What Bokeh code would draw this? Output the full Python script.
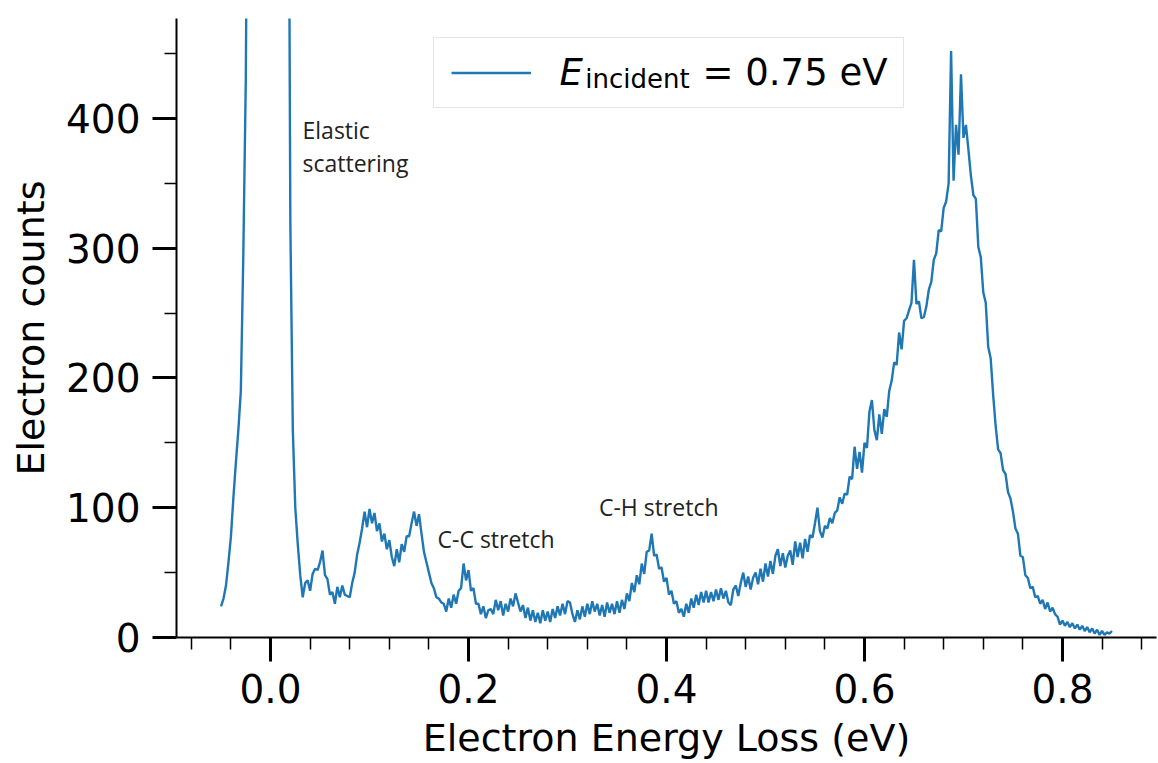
import numpy as np
from bokeh.plotting import figure
from bokeh.models import Range1d, FixedTicker, Legend, LegendItem, Label, PrintfTickFormatter
from bokeh.embed import file_html
from bokeh.resources import INLINE

# Energy grid of the spectrum (eV): start and step
energy_start = -0.05
energy_step = 0.0025

# Electron counts, region by region
counts_elastic = [24, 30, 40, 58, 78, 108, 135, 160, 190, 295,
                  430, 720, 1200, 1900, 2700, 3400, 3900, 4200, 4300, 4200,
                  4000, 3600, 3100, 2500, 1900, 1400, 1000, 780, 320, 160]
counts_low_modes = [100, 72, 48, 31, 42, 44, 36, 49, 53, 52,
                    58, 67, 48, 45, 33, 35, 26, 39, 31, 40,
                    33, 32, 31, 42, 50, 64, 73, 84, 97, 85,
                    99, 88, 96, 82, 88, 74, 80, 68, 75, 62,
                    55, 68, 58, 72, 66, 78, 78, 88, 97, 86,
                    95, 80, 66, 58, 50, 42, 38, 31, 30, 27,
                    26, 20, 30, 23, 33, 26, 36, 38, 57, 44,
                    52, 36, 38, 26, 26, 18, 24, 15, 21, 22]
counts_plateau = [18, 29, 21, 28, 17, 26, 20, 30, 24, 34,
                  27, 20, 25, 15, 23, 13, 21, 12, 19, 11,
                  21, 13, 20, 12, 22, 15, 24, 17, 26, 18,
                  28, 27, 18, 12, 21, 14, 24, 16, 26, 18,
                  28, 20, 26, 17, 25, 16, 27, 19, 26, 18]
counts_ch = [28, 19, 29, 22, 34, 28, 42, 35, 48, 41,
             57, 49, 66, 67, 80, 63, 64, 53, 54, 43,
             46, 33, 36, 26, 28, 19, 22, 16, 26, 19,
             30, 23, 33, 25, 35, 27, 36, 27, 35, 28,
             37, 29, 38, 30, 36, 27, 25, 37, 40, 32]
counts_rise = [42, 50, 39, 47, 37, 46, 50, 41, 53, 43,
               57, 47, 59, 49, 63, 68, 55, 65, 54, 63,
               67, 56, 74, 62, 73, 61, 76, 66, 79, 77,
               88, 100, 82, 77, 86, 84, 92, 88, 96, 98,
               108, 103, 111, 110, 124, 122, 147, 130, 143, 127,
               150, 146, 174, 183, 160, 152, 172, 157, 176, 170,
               190, 198, 212, 210, 235, 222, 244, 246, 252, 258]
counts_main = [291, 257, 259, 246, 247, 255, 268, 274, 291, 296,
               314, 313, 331, 336, 350, 452, 352, 395, 372, 434,
               385, 395, 376, 356, 341, 338, 301, 293, 266, 258,
               224, 215, 187, 163, 145, 142, 129, 126, 112, 107]
counts_tail = [97, 84, 80, 63, 62, 48, 46, 38, 39, 31,
               32, 26, 29, 22, 27, 20, 23, 18, 16, 10,
               13, 9, 12, 8, 11, 7, 10, 6, 9, 5,
               8, 4, 7, 3, 6, 2, 5, 2, 4, 3,
               5]

# Tick positions
x_major = [0.0, 0.2, 0.4, 0.6, 0.8]
x_minor = [-0.08, -0.04, 0.04, 0.08, 0.12, 0.16, 0.24, 0.28, 0.32, 0.36,
           0.44, 0.48, 0.52, 0.56, 0.64, 0.68, 0.72, 0.76, 0.84, 0.88]
y_major = [0, 100, 200, 300, 400]
y_minor = [50, 150, 250, 350, 450]

counts = np.array(counts_elastic + counts_low_modes + counts_plateau + counts_ch
                  + counts_rise + counts_main + counts_tail, dtype=float)
energy = np.round(energy_start + energy_step * np.arange(len(counts)), 4)

p = figure(width=1158, height=763,
           x_range=Range1d(-0.095, 0.895), y_range=Range1d(0, 477),
           output_backend="svg", toolbar_location=None,
           min_border_left=176, min_border_right=2,
           min_border_top=18, min_border_bottom=126)
p.outline_line_color = None
p.xgrid.visible = False
p.ygrid.visible = False
p.background_fill_color = "white"
p.border_fill_color = "white"

r = p.line(energy, counts, line_color="#1f77b4", line_width=2.4)

for ax in (p.xaxis[0], p.yaxis[0]):
    ax.axis_line_width = 2
    ax.axis_line_color = "black"
    ax.major_tick_in = 0
    ax.minor_tick_in = 0
    ax.major_tick_out = 24
    ax.minor_tick_out = 12
    ax.major_tick_line_width = 3
    ax.minor_tick_line_width = 1.5
    ax.major_tick_line_color = "black"
    ax.minor_tick_line_color = "black"
    ax.major_label_text_font = "DejaVu Sans"
    ax.major_label_text_font_size = "39px"
    ax.major_label_text_color = "black"
    ax.axis_label_text_font = "DejaVu Sans"
    ax.axis_label_text_font_size = "38px"
    ax.axis_label_text_font_style = "normal"
    ax.axis_label_text_color = "black"

p.xaxis.ticker = FixedTicker(ticks=x_major, minor_ticks=x_minor)
p.xaxis.formatter = PrintfTickFormatter(format="%.1f")
p.yaxis.ticker = FixedTicker(ticks=y_major, minor_ticks=y_minor)
p.xaxis.axis_label = "Electron Energy Loss (eV)"
p.yaxis.axis_label = "Electron counts"
p.xaxis.major_label_standoff = 12
p.yaxis.major_label_standoff = 12
p.xaxis.axis_label_standoff = 10
p.yaxis.axis_label_standoff = 10

legend = Legend(items=[LegendItem(label=" ", renderers=[r])],
                location=(257, 529), margin=0, padding=17, spacing=0,
                glyph_width=80, glyph_height=35, label_height=35,
                label_width=325, label_standoff=30,
                border_line_color="#cccccc", border_line_width=1.5,
                background_fill_color="white", background_fill_alpha=0.0)
p.add_layout(legend)

leg_text = dict(text_font="DejaVu Sans", text_baseline="alphabetic",
                text_color="black", level="overlay")
p.add_layout(Label(x=0.292, y=435.3, text="E", text_font_style="italic",
                   text_font_size="37px", **leg_text))
p.add_layout(Label(x=0.318, y=430.7, text="incident",
                   text_font_size="26px", **leg_text))
p.add_layout(Label(x=0.4364, y=435.3, text="= 0.75 eV",
                   text_font_size="37px", **leg_text))

ann_style = dict(text_font="Open Sans", text_font_size="23px",
                 text_baseline="alphabetic", text_color="#222222")
p.add_layout(Label(x=0.0323, y=391.0, text="Elastic", **ann_style))
p.add_layout(Label(x=0.0323, y=365.5, text="scattering", **ann_style))
p.add_layout(Label(x=0.1687, y=76.0, text="C-C stretch", **ann_style))
p.add_layout(Label(x=0.3317, y=100.5, text="C-H stretch", **ann_style))

open("out.html", "w").write(file_html(p, INLINE))
